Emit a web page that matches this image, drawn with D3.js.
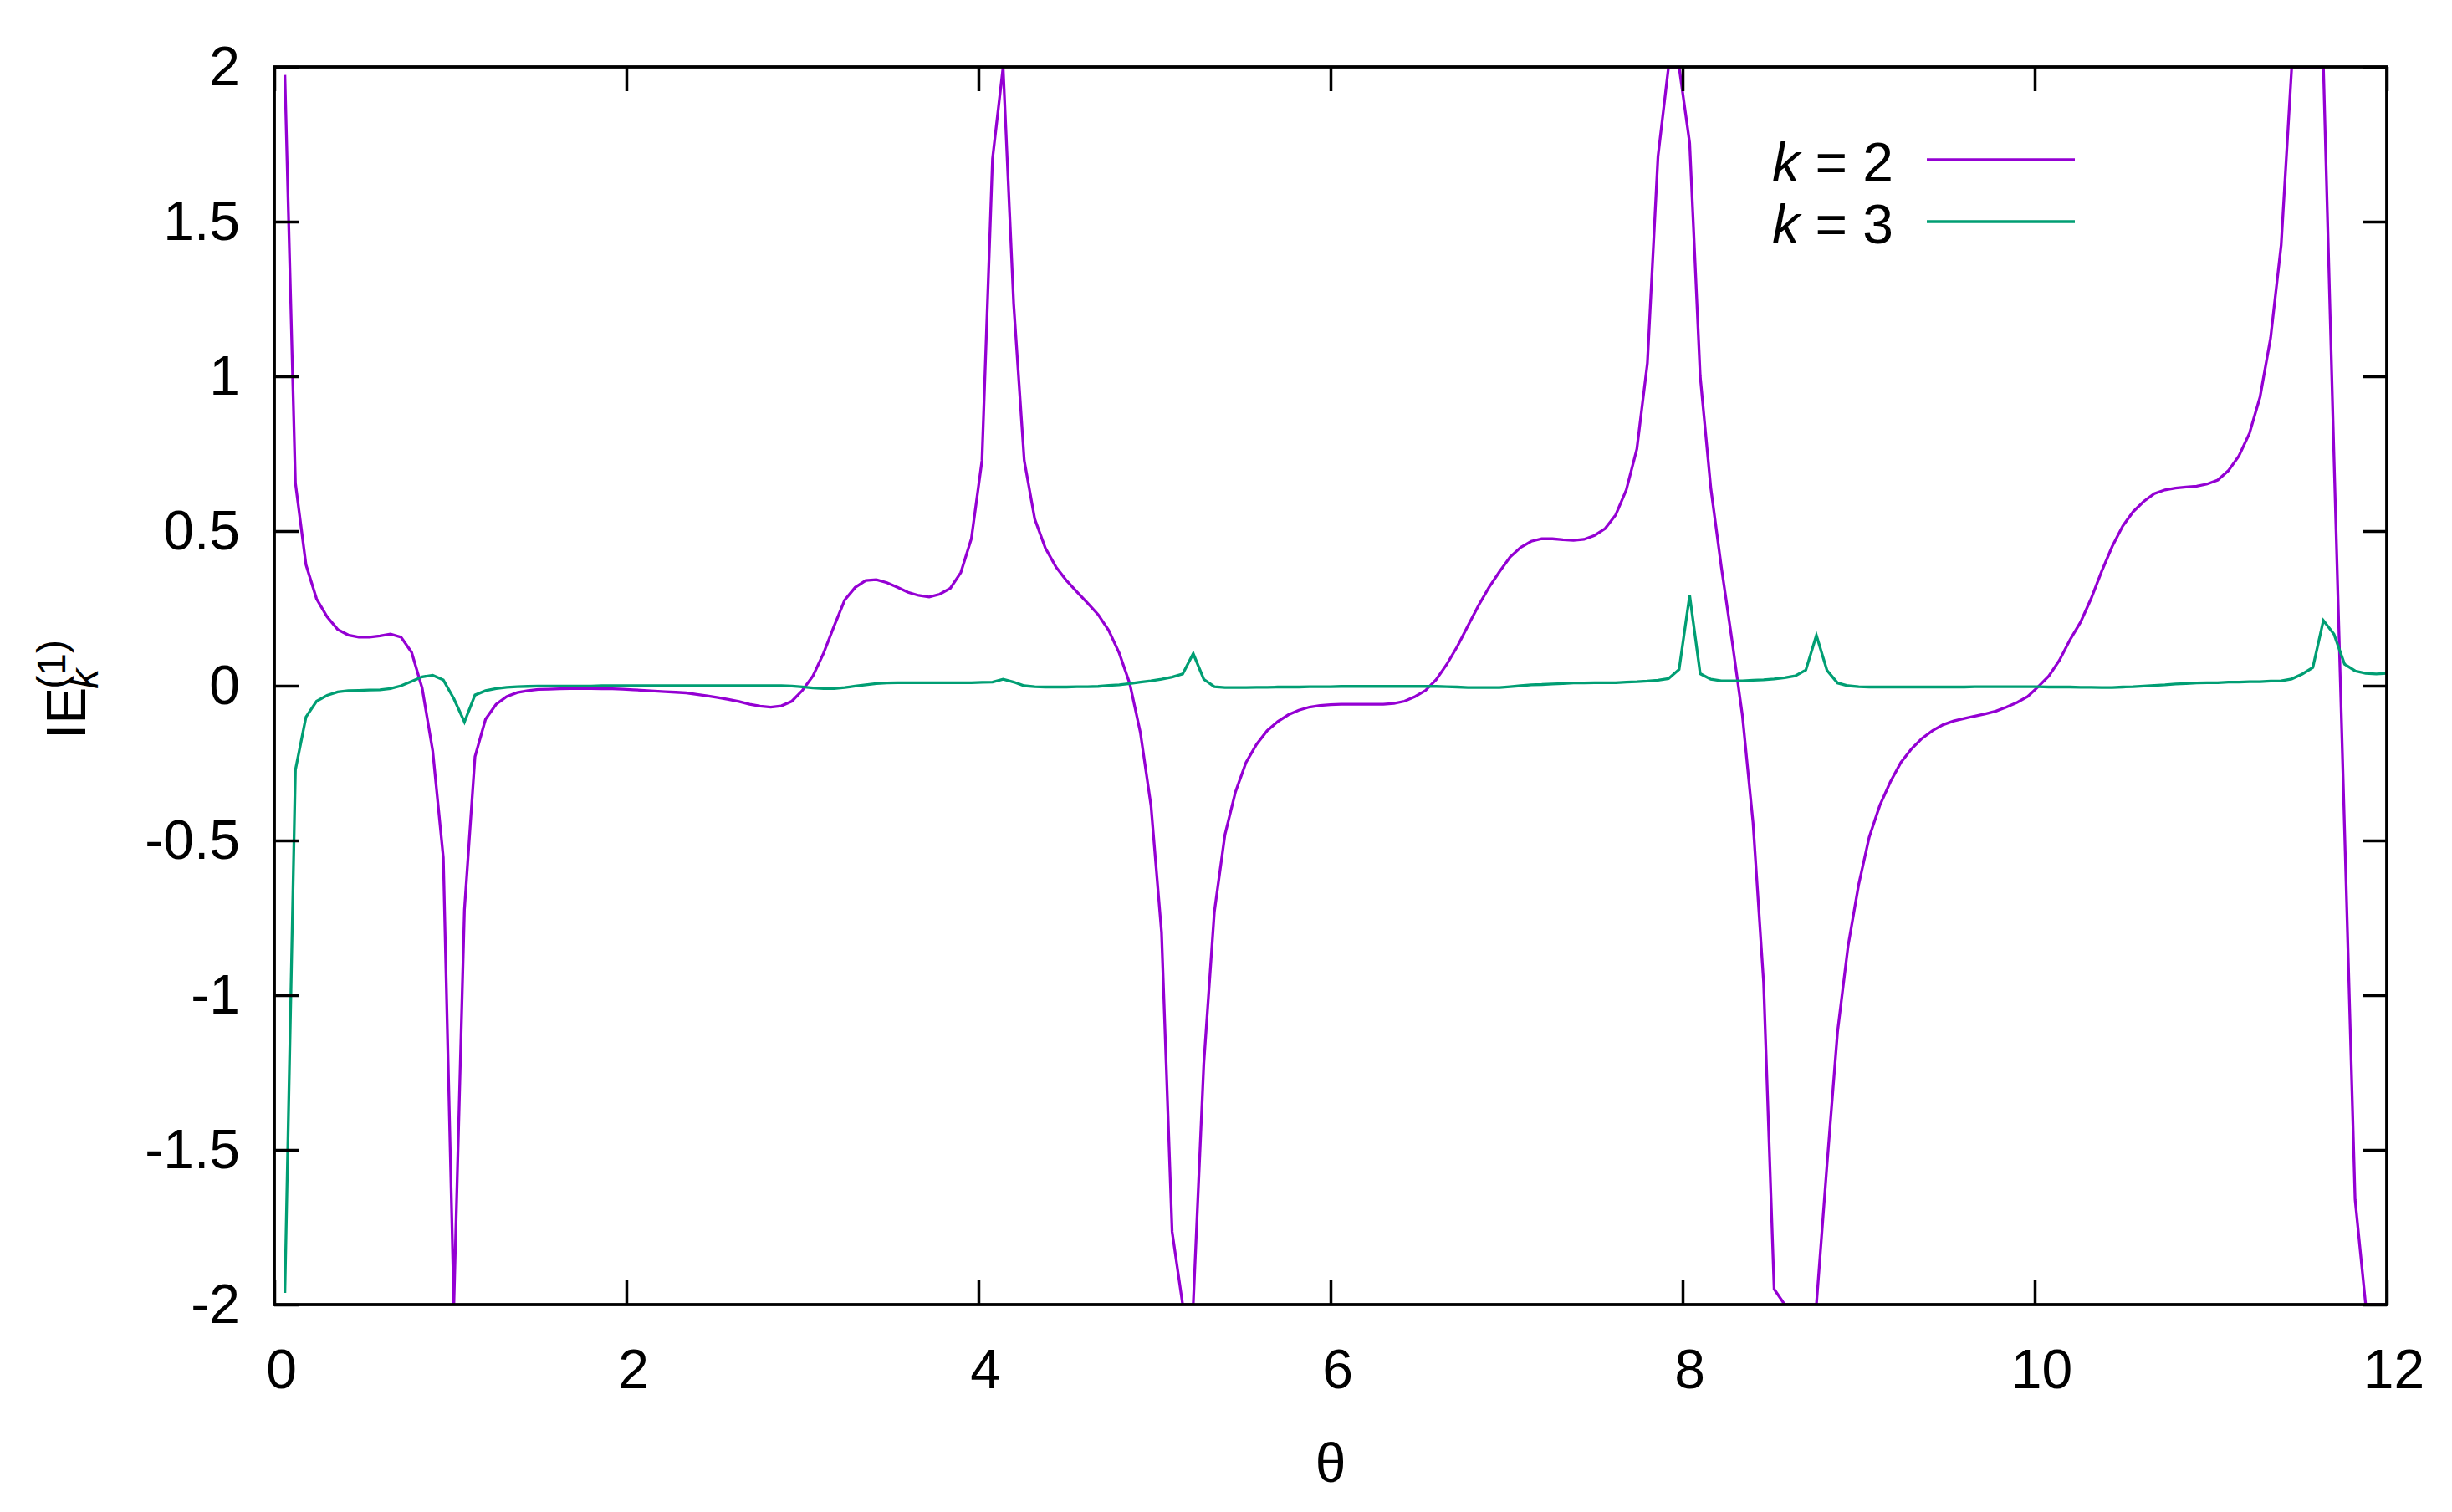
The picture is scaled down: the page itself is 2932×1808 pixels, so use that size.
<!DOCTYPE html>
<html lang="en">
<head>
<meta charset="UTF-8">
<title>IE_k^(1) versus theta</title>
<script src="https://d3js.org/d3.v7.min.js"></script>
<style>
  body { margin: 0; background: #fff; }
  svg { display: block; font-family: "Liberation Sans", Arial, sans-serif; }
  .tick text { font-size: 66px; font-family: "Liberation Sans", Arial, sans-serif; fill: #000; }
  .tick line { stroke: #000; stroke-width: 3.5; }
</style>
</head>
<body>
<svg id="chart" width="2932" height="1808"></svg>
<script>
// sample points (theta)
const theta = [
  0.06,0.12,0.18,0.24,0.30,0.36,0.42,0.48,0.54,0.60,
  0.66,0.72,0.78,0.84,0.90,0.96,1.02,1.08,1.14,1.20,
  1.26,1.32,1.38,1.44,1.50,1.56,1.62,1.68,1.74,1.80,
  1.86,1.92,1.98,2.04,2.10,2.16,2.22,2.28,2.34,2.40,
  2.46,2.52,2.58,2.64,2.70,2.76,2.82,2.88,2.94,3.00,
  3.06,3.12,3.18,3.24,3.30,3.36,3.42,3.48,3.54,3.60,
  3.66,3.72,3.78,3.84,3.90,3.96,4.02,4.08,4.14,4.20,
  4.26,4.32,4.38,4.44,4.50,4.56,4.62,4.68,4.74,4.80,
  4.86,4.92,4.98,5.04,5.10,5.16,5.22,5.28,5.34,5.40,
  5.46,5.52,5.58,5.64,5.70,5.76,5.82,5.88,5.94,6.00,
  6.06,6.12,6.18,6.24,6.30,6.36,6.42,6.48,6.54,6.60,
  6.66,6.72,6.78,6.84,6.90,6.96,7.02,7.08,7.14,7.20,
  7.26,7.32,7.38,7.44,7.50,7.56,7.62,7.68,7.74,7.80,
  7.86,7.92,7.98,8.04,8.10,8.16,8.22,8.28,8.34,8.40,
  8.46,8.52,8.58,8.64,8.70,8.76,8.82,8.88,8.94,9.00,
  9.06,9.12,9.18,9.24,9.30,9.36,9.42,9.48,9.54,9.60,
  9.66,9.72,9.78,9.84,9.90,9.96,10.02,10.08,10.14,10.20,
  10.26,10.32,10.38,10.44,10.50,10.56,10.62,10.68,10.74,10.80,
  10.86,10.92,10.98,11.04,11.10,11.16,11.22,11.28,11.34,11.40,
  11.46,11.52,11.58,11.64,11.70,11.76,11.82,11.88,11.94,12.00
];

// k = 2
const ieK2 = [
  1.974,0.655,0.391,0.281,0.223,0.182,0.164,0.157,0.157,0.161,
  0.167,0.157,0.108,-0.008,-0.211,-0.555,-2.0,-0.724,-0.229,-0.108,
  -0.060,-0.035,-0.022,-0.016,-0.012,-0.011,-0.010,-0.009,-0.009,-0.009,
  -0.010,-0.010,-0.011,-0.013,-0.015,-0.017,-0.019,-0.021,-0.023,-0.028,
  -0.033,-0.038,-0.044,-0.051,-0.060,-0.066,-0.069,-0.065,-0.050,-0.015,
  0.032,0.105,0.193,0.277,0.318,0.340,0.343,0.333,0.318,0.302,
  0.292,0.287,0.296,0.315,0.366,0.476,0.728,1.703,2.0,1.234,
  0.728,0.538,0.445,0.384,0.340,0.303,0.267,0.230,0.179,0.105,
  0.006,-0.152,-0.387,-0.797,-1.764,-2.0,-2.0,-1.222,-0.731,-0.482,
  -0.343,-0.248,-0.189,-0.145,-0.116,-0.094,-0.079,-0.069,-0.064,-0.061,
  -0.060,-0.060,-0.060,-0.060,-0.060,-0.057,-0.050,-0.035,-0.015,0.020,
  0.069,0.127,0.193,0.259,0.318,0.369,0.416,0.447,0.467,0.475,
  0.475,0.472,0.470,0.473,0.486,0.508,0.552,0.633,0.765,1.043,
  1.710,2.0,2.0,1.754,1.000,0.640,0.384,0.149,-0.098,-0.442,
  -0.958,-1.950,-2.0,-2.0,-2.0,-2.0,-1.550,-1.119,-0.841,-0.643,
  -0.489,-0.387,-0.311,-0.248,-0.204,-0.170,-0.145,-0.126,-0.114,-0.106,
  -0.098,-0.091,-0.082,-0.069,-0.054,-0.035,-0.003,0.031,0.082,0.148,
  0.205,0.281,0.369,0.450,0.516,0.563,0.596,0.621,0.633,0.639,
  0.642,0.645,0.652,0.665,0.695,0.743,0.816,0.933,1.124,1.424,
  2.0,2.0,2.0,2.0,0.742,-0.460,-1.660,-2.0,-2.0,-2.0
];

// k = 3
const ieK3 = [
  -1.962,-0.272,-0.101,-0.050,-0.031,-0.020,-0.016,-0.015,-0.014,-0.013,
  -0.009,0.000,0.014,0.029,0.034,0.019,-0.042,-0.117,-0.030,-0.016,
  -0.009,-0.005,-0.003,-0.002,-0.001,-0.001,-0.001,-0.001,-0.001,-0.001,
  0.000,0.000,0.000,0.000,0.000,0.000,0.000,0.000,0.000,0.000,
  0.000,0.000,0.000,0.000,0.000,0.000,0.000,0.000,-0.001,-0.004,
  -0.007,-0.009,-0.009,-0.006,-0.001,0.003,0.007,0.009,0.010,0.010,
  0.010,0.010,0.010,0.010,0.010,0.010,0.011,0.012,0.021,0.012,
  0.000,-0.003,-0.004,-0.004,-0.004,-0.003,-0.003,-0.002,0.001,0.003,
  0.007,0.012,0.016,0.021,0.028,0.038,0.104,0.021,-0.003,-0.006,
  -0.006,-0.006,-0.005,-0.005,-0.004,-0.004,-0.004,-0.003,-0.003,-0.003,
  -0.002,-0.002,-0.002,-0.002,-0.002,-0.002,-0.002,-0.002,-0.002,-0.002,
  -0.003,-0.004,-0.006,-0.006,-0.006,-0.006,-0.003,0.000,0.003,0.004,
  0.006,0.007,0.009,0.009,0.010,0.010,0.010,0.012,0.013,0.015,
  0.018,0.023,0.053,0.292,0.039,0.021,0.016,0.016,0.016,0.018,
  0.019,0.022,0.026,0.032,0.051,0.163,0.050,0.009,0.000,-0.003,
  -0.004,-0.004,-0.004,-0.004,-0.004,-0.004,-0.004,-0.004,-0.004,-0.004,
  -0.003,-0.003,-0.003,-0.003,-0.003,-0.003,-0.003,-0.004,-0.004,-0.004,
  -0.005,-0.005,-0.006,-0.006,-0.004,-0.003,-0.001,0.001,0.003,0.006,
  0.007,0.009,0.010,0.010,0.012,0.012,0.013,0.013,0.015,0.016,
  0.022,0.038,0.059,0.211,0.167,0.070,0.048,0.040,0.038,0.040
];

const kValues = [2, 3];
const xTicks = [0, 2, 4, 6, 8, 10, 12];
const yTicks = [-2, -1.5, -1, -0.5, 0, 0.5, 1, 1.5, 2];

const colors = ["#9400d3", "#009e73"];
const series = [ieK2, ieK3];

const W = 2932, H = 1808;
const margin = { top: 80, right: 78, bottom: 248, left: 328 };

const svg = d3.select("#chart");

const x = d3.scaleLinear().domain([0, 12]).range([margin.left, W - margin.right]);
const y = d3.scaleLinear().domain([-2, 2]).range([H - margin.bottom, margin.top]);

// data first, clipped to the frame; the border goes on top of it
svg.append("clipPath").attr("id", "plotClip")
  .append("rect")
    .attr("x", x(0)).attr("y", y(2))
    .attr("width", x(12) - x(0)).attr("height", y(-2) - y(2));

const line = d3.line()
    .x((d, i) => x(theta[i]))
    .y(d => y(d));

svg.append("g").attr("clip-path", "url(#plotClip)")
  .selectAll("path")
  .data(series)
  .join("path")
    .attr("d", line)
    .attr("fill", "none")
    .attr("stroke", (d, i) => colors[i])
    .attr("stroke-width", 3.3)
    .attr("stroke-linejoin", "miter");

const fmt = d => String(d);
const noDomain = g => g.select(".domain").remove();

// ticks point inwards on all four sides
svg.append("g")
    .attr("transform", `translate(0,${y(-2)})`)
    .call(d3.axisBottom(x).tickValues(xTicks).tickFormat(fmt).tickSize(-29).tickPadding(53))
    .call(noDomain)
    .call(g => g.selectAll("text").attr("dx", 8));

svg.append("g")
    .attr("transform", `translate(0,${y(2)})`)
    .call(d3.axisTop(x).tickValues(xTicks).tickFormat("").tickSize(-29))
    .call(noDomain);

svg.append("g")
    .attr("transform", `translate(${x(0)},0)`)
    .call(d3.axisLeft(y).tickValues(yTicks).tickFormat(fmt).tickSize(-29).tickPadding(41))
    .call(noDomain);

svg.append("g")
    .attr("transform", `translate(${x(12)},0)`)
    .call(d3.axisRight(y).tickValues(yTicks).tickFormat("").tickSize(-29))
    .call(noDomain);

// frame
svg.append("rect")
    .attr("x", x(0)).attr("y", y(2))
    .attr("width", x(12) - x(0)).attr("height", y(-2) - y(2))
    .attr("fill", "none").attr("stroke", "#000").attr("stroke-width", 3.8);

// legend
const legend = svg.append("g");
kValues.forEach((k, i) => {
    const ly = 191 + i * 74;
    const t = legend.append("text")
        .attr("x", 2264).attr("y", ly + 26)
        .attr("text-anchor", "end")
        .attr("font-size", 66);
    t.append("tspan").attr("font-style", "italic").text("k");
    t.append("tspan").text(` = ${k}`);
    legend.append("line")
        .attr("x1", 2304).attr("x2", 2481)
        .attr("y1", ly).attr("y2", ly)
        .attr("stroke", colors[i]).attr("stroke-width", 3.3);
});

// x label
svg.append("text")
    .attr("x", (x(0) + x(12)) / 2).attr("y", 1772)
    .attr("text-anchor", "middle")
    .attr("font-size", 66)
    .text("θ");

// y label: IE with k below and (1) above
const yl = svg.append("g").attr("transform", `translate(102,${(y(2) + y(-2)) / 2 + 64}) rotate(-90)`);
const ie = yl.append("text").attr("font-size", 66).text("IE");
const w = ie.node().getComputedTextLength();
yl.append("text").attr("x", w - 2).attr("y", 15)
    .attr("font-size", 48).attr("font-style", "italic").text("k");
yl.append("text").attr("x", w - 2).attr("y", -24)
    .attr("font-size", 48).text("(1)");
</script>
</body>
</html>
